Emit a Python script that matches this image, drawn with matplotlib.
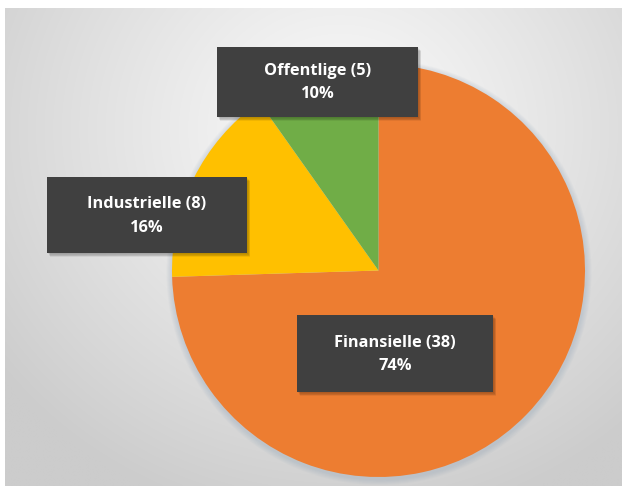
import numpy as np
import matplotlib
matplotlib.use("Agg")
import matplotlib.pyplot as plt
from matplotlib.patches import Rectangle, Circle

# ---- data ----
categories = ["Finansielle", "Industrielle", "Offentlige"]
counts = [38, 8, 5]
percent_labels = ["74%", "16%", "10%"]
colors = ["#ED7D31", "#FFC000", "#70AD47"]

W, H = 626, 486
fig = plt.figure(figsize=(W / 100, H / 100), dpi=100)
fig.patch.set_facecolor("white")
ax = fig.add_axes([0, 0, 1, 1])
ax.set_xlim(0, W)
ax.set_ylim(0, H)
ax.set_aspect("equal")
ax.axis("off")

def Y(y_px):
    return H - y_px

# ---- background radial gradient ----
bx0, bx1, by0, by1 = 5, 622, 9, 486
nx, ny = 300, 240
xs = np.linspace(bx0, bx1, nx)
ys = np.linspace(by0, by1, ny)
XX, YY = np.meshgrid(xs, ys)
cx, cy = 340, 130
d = np.sqrt(((XX - cx) / 430.0) ** 2 + ((YY - cy) / 400.0) ** 2)
d = np.clip(d, 0, 1)
light, dark = 0.98, 0.80
val = light - (light - dark) * d ** 1.15
img = np.dstack([val, val, val])
ax.imshow(img, extent=[bx0, bx1, Y(by1), Y(by0)], origin="upper",
          interpolation="bilinear", zorder=0)

# ---- pie ----
pcx, pcy, r = 378.5, 270.5, 206.5
# soft shadow (thin bluish halo)
for i in range(6):
    ax.add_patch(Circle((pcx + 0.5, Y(pcy) - 2), r + 6 - i,
                        facecolor="#8fa3b8", edgecolor="none",
                        alpha=0.06, zorder=1))
ax.pie(counts, colors=colors, startangle=90, counterclock=False,
       center=(pcx, Y(pcy)), radius=r,
       wedgeprops=dict(edgecolor="none", linewidth=0), frame=True)
ax.set_xlim(0, W)
ax.set_ylim(0, H)
ax.axis("off")

# ---- label boxes ----
boxes = {
    "Offentlige": (217, 47, 418, 117),
    "Industrielle": (47, 177, 247, 253),
    "Finansielle": (297, 315, 493, 392),
}
for cat, cnt, pct in zip(categories, counts, percent_labels):
    x0, y0, x1, y1 = boxes[cat]
    # shadow
    for k in range(5):
        ax.add_patch(Rectangle((x0 + 1 + k * 0.6, Y(y1) - 1 - k * 0.8),
                               x1 - x0, y1 - y0, facecolor="black",
                               edgecolor="none", alpha=0.06, zorder=4))
    ax.add_patch(Rectangle((x0, Y(y1)), x1 - x0, y1 - y0,
                           facecolor="#404040", edgecolor="none", zorder=5))
    xc = (x0 + x1) / 2
    yc = (y0 + y1) / 2
    ax.text(xc, Y(yc - 10.5), f"{cat} ({cnt})", color="white",
            fontsize=11.8, fontweight="bold", family="Open Sans",
            ha="center", va="center", zorder=6)
    ax.text(xc, Y(yc + 12.5), pct, color="white",
            fontsize=11.8, fontweight="bold", family="Open Sans",
            ha="center", va="center", zorder=6)

fig.savefig("out.png", dpi=100)
